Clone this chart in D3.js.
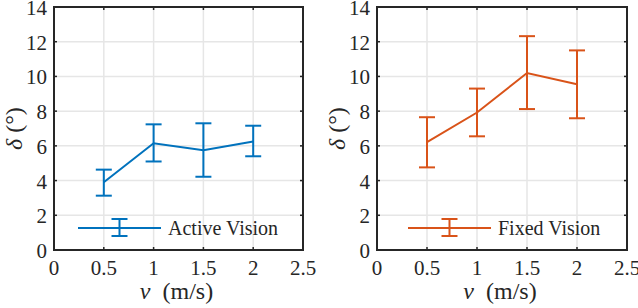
<!DOCTYPE html>
<meta charset="utf-8">
<body style="margin:0">
<svg width="638" height="308" style="font-family: 'Liberation Serif', 'Times New Roman', Times, serif"></svg>
<script src="https://cdnjs.cloudflare.com/ajax/libs/d3/7.8.5/d3.min.js"></script>
<script>
var speeds = [0.5, 1, 1.5, 2];

var activeMean = [3.9, 6.15, 5.75, 6.25];
var activeLow = [3.13, 5.1, 4.22, 5.4];
var activeHigh = [4.63, 7.24, 7.3, 7.16];

var fixedMean = [6.22, 7.92, 10.2, 9.55];
var fixedLow = [4.76, 6.55, 8.12, 7.59];
var fixedHigh = [7.65, 9.3, 12.32, 11.5];

var xTicks = [0, 0.5, 1, 1.5, 2, 2.5];
var yTicks = [0, 2, 4, 6, 8, 10, 12, 14];

var panels = [
  {left: 54, right: 303, color: '#0072BD', name: 'Active Vision', mean: activeMean, low: activeLow, high: activeHigh, legX: 78},
  {left: 377, right: 627, color: '#D95319', name: 'Fixed Vision', mean: fixedMean, low: fixedLow, high: fixedHigh, legX: 408}
];

var yTop = 7, yBottom = 250;
var svg = d3.select('svg');

function label(sel, size) {
  return sel.style('font-family', 'Liberation Serif').style('font-size', size + 'px').style('fill', '#262626');
}

panels.forEach(function(p) {
  var x = d3.scaleLinear().domain([0, 2.5]).range([p.left, p.right]);
  var y = d3.scaleLinear().domain([0, 14]).range([yBottom, yTop]);
  var g = svg.append('g');

  // grid
  g.selectAll('.gx').data(xTicks.slice(1, -1)).enter().append('line')
    .attr('x1', x).attr('x2', x).attr('y1', yTop).attr('y2', yBottom)
    .attr('stroke', '#e6e6e6').attr('stroke-width', 1.5);
  g.selectAll('.gy').data(yTicks.slice(1, -1)).enter().append('line')
    .attr('y1', y).attr('y2', y).attr('x1', p.left).attr('x2', p.right)
    .attr('stroke', '#e6e6e6').attr('stroke-width', 1.5);

  // ticks inside, all four sides
  xTicks.forEach(function(t) {
    g.append('line').attr('x1', x(t)).attr('x2', x(t)).attr('y1', yBottom).attr('y2', yBottom - 3)
      .attr('stroke', '#262626').attr('stroke-width', 1.5);
    g.append('line').attr('x1', x(t)).attr('x2', x(t)).attr('y1', yTop).attr('y2', yTop + 3)
      .attr('stroke', '#262626').attr('stroke-width', 1.5);
  });
  yTicks.forEach(function(t) {
    g.append('line').attr('x1', p.left).attr('x2', p.left + 3).attr('y1', y(t)).attr('y2', y(t))
      .attr('stroke', '#262626').attr('stroke-width', 1.5);
    g.append('line').attr('x1', p.right).attr('x2', p.right - 3).attr('y1', y(t)).attr('y2', y(t))
      .attr('stroke', '#262626').attr('stroke-width', 1.5);
  });

  // tick labels
  label(g.selectAll('.xl').data(xTicks).enter().append('text')
    .attr('x', x).attr('y', 275).attr('text-anchor', 'middle'), 21)
    .text(function(d) { return d; });
  label(g.selectAll('.yl').data(yTicks).enter().append('text')
    .attr('x', p.left - 7).attr('y', function(d) { return y(d) + 8; }).attr('text-anchor', 'end'), 21)
    .text(function(d) { return d; });

  // axis labels
  var xl = label(g.append('text').attr('x', (p.left + p.right) / 2 - 2).attr('y', 299)
    .attr('text-anchor', 'middle'), 24);
  xl.append('tspan').style('font-style', 'italic').text('v');
  xl.append('tspan').text('\u00a0 (m/s)');

  var yl = label(g.append('text')
    .attr('transform', 'translate(' + (p.left - 32) + ',' + ((yTop + yBottom) / 2) + ') rotate(-90)')
    .attr('text-anchor', 'middle'), 24);
  yl.append('tspan').style('font-style', 'italic').text('δ');
  yl.append('tspan').text(' (°)');

  // series
  var line = d3.line().x(function(d, i) { return x(speeds[i]); }).y(function(d) { return y(d); });
  g.append('path').datum(p.mean).attr('d', line)
    .attr('fill', 'none').attr('stroke', p.color).attr('stroke-width', 2);

  var cap = 8;
  speeds.forEach(function(s, i) {
    var cx = x(s);
    g.append('line').attr('x1', cx).attr('x2', cx).attr('y1', y(p.low[i])).attr('y2', y(p.high[i]))
      .attr('stroke', p.color).attr('stroke-width', 2);
    [p.low[i], p.high[i]].forEach(function(v) {
      g.append('line').attr('x1', cx - cap).attr('x2', cx + cap).attr('y1', y(v)).attr('y2', y(v))
        .attr('stroke', p.color).attr('stroke-width', 2);
    });
  });

  // legend
  var ly = 228, lx = p.legX, lw = 83, lm = lx + lw / 2;
  g.append('line').attr('x1', lx).attr('x2', lx + lw).attr('y1', ly).attr('y2', ly)
    .attr('stroke', p.color).attr('stroke-width', 2);
  g.append('line').attr('x1', lm).attr('x2', lm).attr('y1', ly - 9).attr('y2', ly + 8)
    .attr('stroke', p.color).attr('stroke-width', 2);
  [ly - 9, ly + 8].forEach(function(v) {
    g.append('line').attr('x1', lm - 8).attr('x2', lm + 8).attr('y1', v).attr('y2', v)
      .attr('stroke', p.color).attr('stroke-width', 2);
  });
  label(g.append('text').attr('x', lx + lw + 7).attr('y', ly + 7), 20).text(p.name);

  // frame
  g.append('rect').attr('x', p.left).attr('y', yTop).attr('width', p.right - p.left).attr('height', yBottom - yTop)
    .attr('fill', 'none').attr('stroke', '#262626').attr('stroke-width', 2);
});
</script>
</body>
